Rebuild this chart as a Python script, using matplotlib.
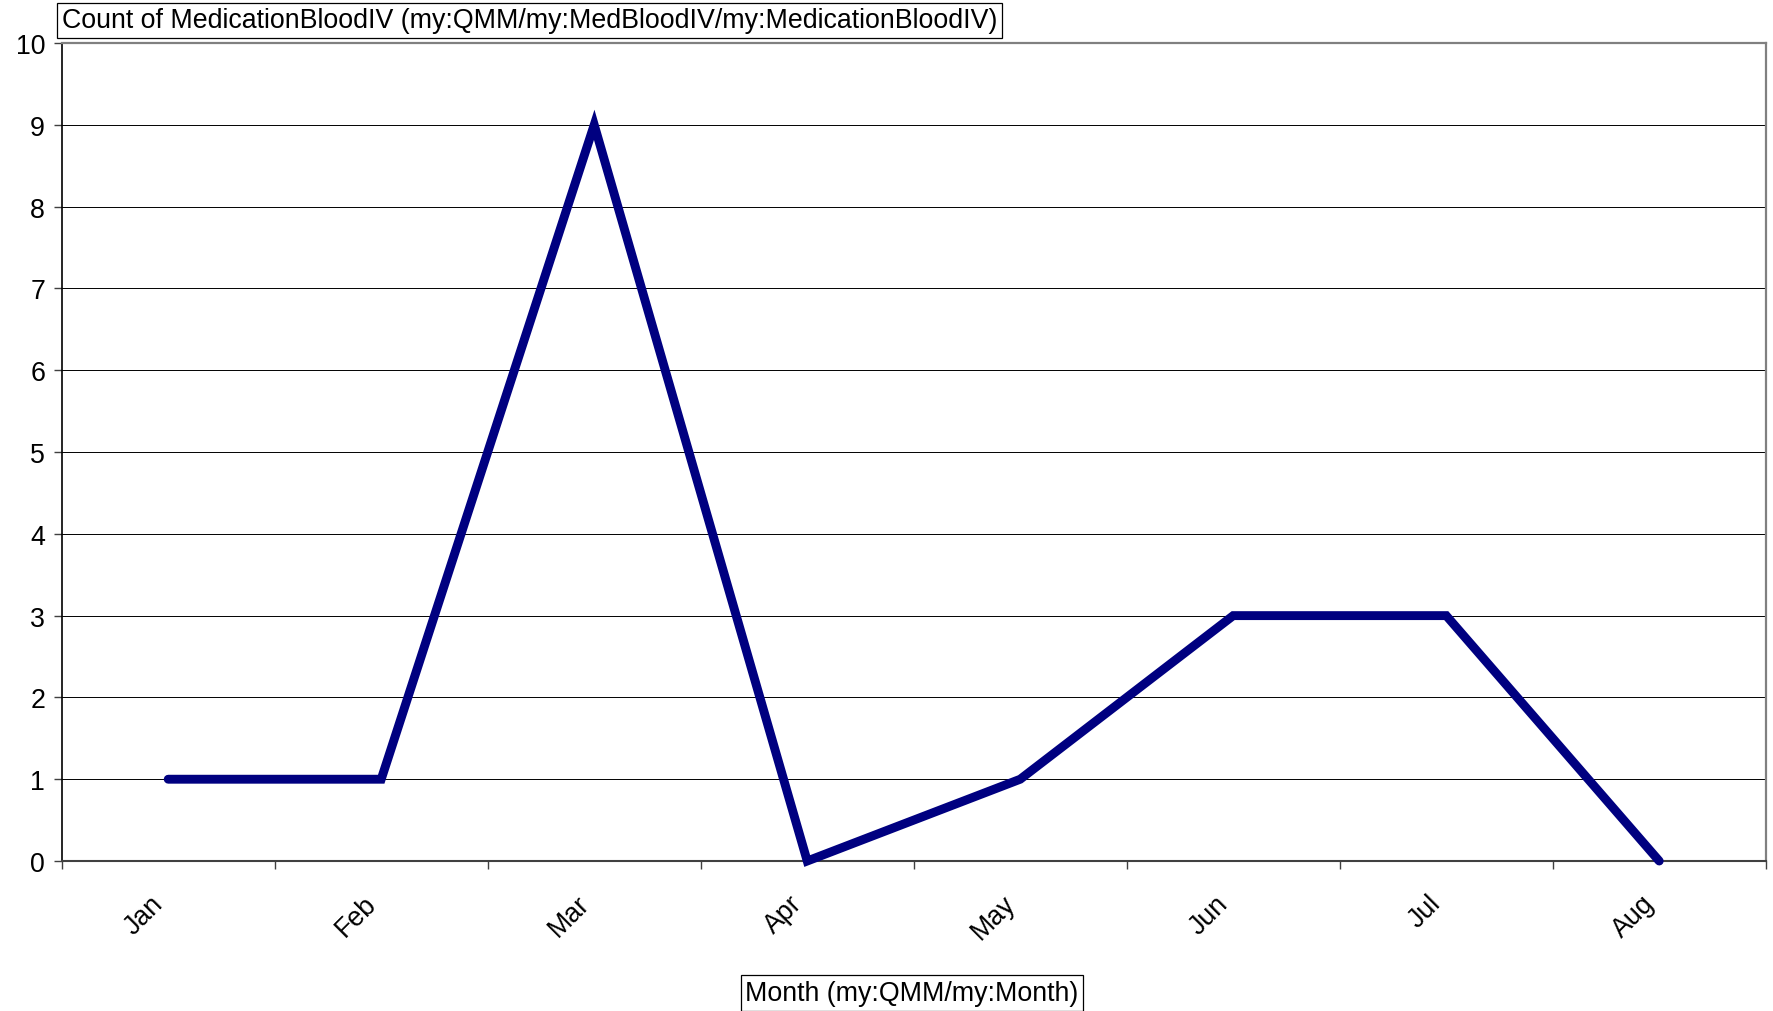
import matplotlib
matplotlib.use("Agg")
import matplotlib.pyplot as plt
from matplotlib.ticker import FixedLocator, NullFormatter

plt.rcParams['font.family'] = ['Liberation Sans', 'DejaVu Sans']

# data
months = ["Jan", "Feb", "Mar", "Apr", "May", "Jun", "Jul", "Aug"]
counts = [1, 1, 9, 0, 1, 3, 3, 0]
yticks = list(range(0, 11))

title_text = "Count of MedicationBloodIV (my:QMM/my:MedBloodIV/my:MedicationBloodIV)"
xlabel_text = "Month (my:QMM/my:Month)"

fs = 19.3

fig = plt.figure(figsize=(17.73, 10.12), dpi=100)
ax = fig.add_axes([0.0348, 0.1482, 0.9611, 0.8083])

# plot the series at category centres
xs = [i + 0.5 for i in range(len(months))]
ax.plot(xs, counts, color='#000080', linewidth=6.4, solid_capstyle='round',
        solid_joinstyle='miter', clip_on=False, zorder=3)

ax.set_xlim(0, len(months))
ax.set_ylim(0, 10)

# gridlines
ax.set_yticks(yticks)
ax.yaxis.grid(True, color='black', linewidth=0.7)
ax.set_axisbelow(True)

# x ticks at category boundaries, labels at centres
ax.xaxis.set_major_locator(FixedLocator(range(0, len(months) + 1)))
ax.xaxis.set_major_formatter(NullFormatter())
ax.xaxis.set_minor_locator(FixedLocator(xs))
ax.set_xticklabels(months, minor=True)
ax.tick_params(axis='x', which='major', direction='out', length=6, width=1, color='#404040')
ax.tick_params(axis='x', which='minor', length=0, pad=21, labelsize=fs)
for lab in ax.get_xticklabels(minor=True):
    lab.set_rotation(45)
    lab.set_ha('right')
    lab.set_va('top')

ax.tick_params(axis='y', direction='out', length=6, width=1, pad=6, labelsize=fs, color='#404040')

# spines
ax.spines['left'].set_color('black')
ax.spines['left'].set_linewidth(1.2)
ax.spines['bottom'].set_color('#404040')
ax.spines['bottom'].set_linewidth(1.5)
for s in ['top', 'right']:
    ax.spines[s].set_color('#808080')
    ax.spines[s].set_linewidth(1.6)

# title and axis label in boxes
box = dict(boxstyle='square,pad=0.18', facecolor='white', edgecolor='black', linewidth=0.9)
fig.text(62 / 1773, 1 - 21.5 / 1012, title_text, fontsize=fs, ha='left', va='center', bbox=box)
fig.text(912 / 1773, 1 - 994 / 1012, xlabel_text, fontsize=fs, ha='center', va='center', bbox=box)

fig.savefig("out.png", dpi=100)
